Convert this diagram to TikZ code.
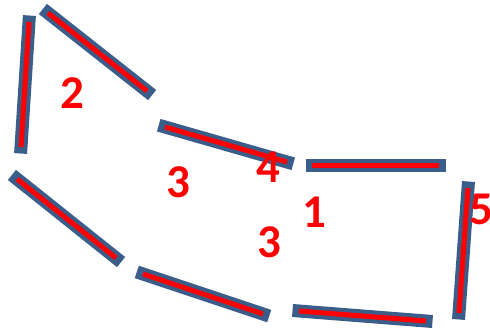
\documentclass[tikz,border=0pt]{standalone}
\usepackage{fontspec}
\setmainfont{Carlito}
\definecolor{segblue}{HTML}{3B5D8A}
\definecolor{segred}{HTML}{FF0000}
\begin{document}
\begin{tikzpicture}[x=1pt,y=-1pt,
  segouter/.style={draw=segblue,line width=13pt,line cap=rect},
  seginner/.style={draw=segred,line width=5pt,line cap=butt},
  lbl/.style={text=segred,font=\bfseries\fontsize{47}{47}\selectfont,inner sep=0pt}]
\useasboundingbox (0,0) rectangle (490,331);
% segment end points
\coordinate (a1) at (29,22);  \coordinate (a2) at (21,147);
\coordinate (b1) at (48,13);  \coordinate (b2) at (147,91);
\coordinate (c1) at (165,127); \coordinate (c2) at (287,162);
\coordinate (d1) at (312,166); \coordinate (d2) at (439,166);
\coordinate (e1) at (468,188); \coordinate (e2) at (459,313);
\coordinate (f1) at (17,179); \coordinate (f2) at (116,258);
\coordinate (g1) at (143,274); \coordinate (g2) at (263,314);
\coordinate (h1) at (299,311); \coordinate (h2) at (426,321);
\foreach \s in {a,b,c,d,e,f,g,h}{
  \draw[segouter] (\s1) -- (\s2);
  \draw[seginner] (\s1) -- (\s2);
}
\node[lbl] (n2) at (72,93) {2};
\node[lbl] (n3a) at (178,182) {3};
\node[lbl] (n4) at (268,167) {4};
\node[lbl] (n1) at (314,212) {1};
\node[lbl] (n3b) at (269,242) {3};
\node[lbl] (n5) at (481,209) {5};
\end{tikzpicture}
\end{document}
